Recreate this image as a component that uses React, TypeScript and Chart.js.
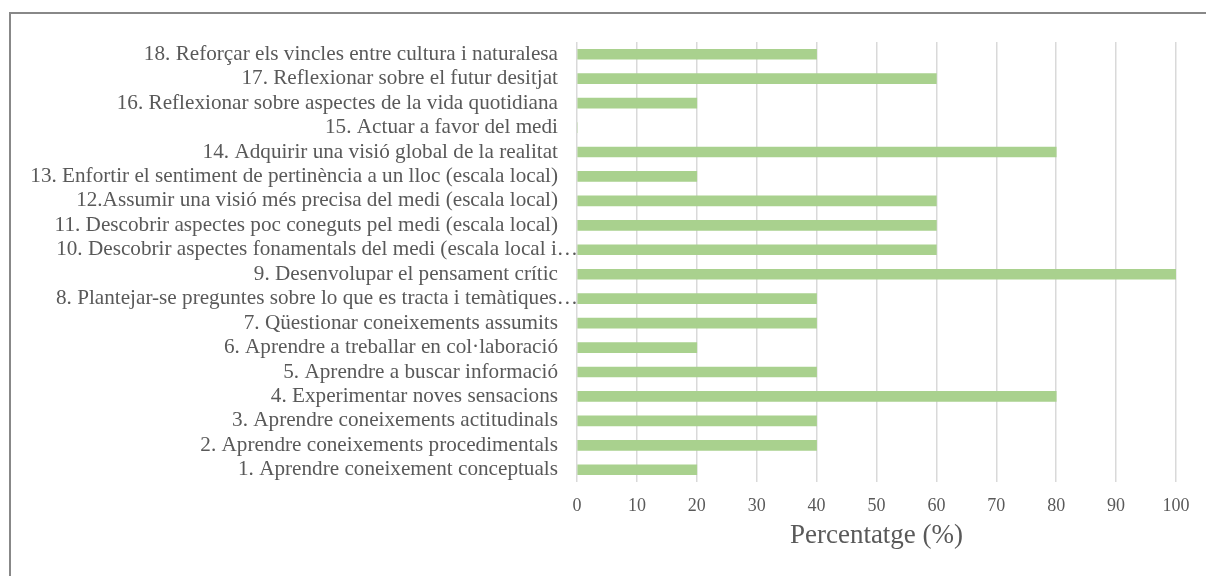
import React, { useEffect, useRef } from "react";
import { Chart, registerables } from "chart.js";

Chart.register(...registerables);

const categories: string[] = [
  "18. Reforçar els vincles entre cultura i naturalesa",
  "17. Reflexionar sobre el futur desitjat",
  "16. Reflexionar sobre aspectes de la vida quotidiana",
  "15. Actuar a favor del medi",
  "14. Adquirir una visió global de la realitat",
  "13. Enfortir el sentiment de pertinència a un lloc (escala local)",
  "12.Assumir una visió més precisa del medi (escala local)",
  "11. Descobrir aspectes poc coneguts pel medi (escala local)",
  "10. Descobrir aspectes fonamentals del medi (escala local i…",
  "9. Desenvolupar el pensament crític",
  "8. Plantejar-se preguntes sobre lo que es tracta i temàtiques…",
  "7. Qüestionar coneixements assumits",
  "6. Aprendre a treballar en col·laboració",
  "5. Aprendre a buscar informació",
  "4. Experimentar noves sensacions",
  "3. Aprendre coneixements actitudinals",
  "2. Aprendre coneixements procedimentals",
  "1. Aprendre coneixement conceptuals",
];

const percentages: number[] = [40, 60, 20, 0, 80, 20, 60, 60, 60, 100, 40, 40, 20, 40, 80, 40, 40, 20];

const xTickMin = 0;
const xTickMax = 100;
const xTickStep = 10;
const xAxisTitle = "Percentatge (%)";

const FONT = '"Liberation Serif", "Times New Roman", serif';
const Y_FONT_SIZE = 21.2;

// Draws the category labels at the y scale's tick positions; labels that
// were truncated (ending in an ellipsis) run up to the plot edge, like Excel.
const categoryLabelPlugin = {
  id: "categoryLabels",
  afterDraw(chart: any) {
    const scale = chart.scales.y;
    const ctx = chart.ctx;
    const left = chart.chartArea.left;
    ctx.save();
    ctx.font = `${Y_FONT_SIZE}px ${FONT}`;
    ctx.fillStyle = "#595959";
    ctx.textAlign = "right";
    ctx.textBaseline = "middle";
    const labels: string[] = chart.data.labels;
    labels.forEach((lab, i) => {
      const y = scale.getPixelForTick(i);
      const x = lab.endsWith("…") ? left + 1 : left - 19;
      ctx.fillText(lab, x, y);
    });
    ctx.restore();
  },
};

export default function App() {
  const ref = useRef<HTMLCanvasElement | null>(null);

  useEffect(() => {
    document.body.style.overflow = "hidden";
    const canvas = ref.current;
    if (!canvas) return;
    const chart = new Chart(canvas, {
      type: "bar",
      data: {
        labels: categories,
        datasets: [
          {
            data: percentages,
            backgroundColor: "#a9d18e",
            borderWidth: 0,
            barThickness: 10,
          },
        ],
      },
      options: {
        indexAxis: "y",
        animation: false,
        responsive: false,
        devicePixelRatio: 1,
        layout: { padding: { left: 0, right: 30, top: 42, bottom: 0 } },
        plugins: {
          legend: { display: false },
          tooltip: { enabled: false },
          title: { display: false },
        },
        scales: {
          x: {
            min: xTickMin,
            max: xTickMax,
            afterFit: (scale: any) => {
              scale.height = 94;
            },
            grid: {
              display: true,
              color: "#d9d9d9",
              lineWidth: 1.5,
              drawTicks: false,
            },
            border: { display: false },
            ticks: {
              stepSize: xTickStep,
              padding: 13,
              color: "#595959",
              font: { family: FONT, size: 18 },
              maxRotation: 0,
            },
            title: {
              display: true,
              text: xAxisTitle,
              color: "#595959",
              font: { family: FONT, size: 27 },
              padding: { top: 0, bottom: 24 },
            },
          },
          y: {
            afterFit: (scale: any) => {
              scale.width = 577;
            },
            grid: { display: false, drawTicks: false },
            border: { display: false },
            ticks: {
              display: false,
              autoSkip: false,
            },
          },
        },
      },
      plugins: [categoryLabelPlugin],
    });
    return () => chart.destroy();
  }, []);

  return (
    <div style={{ position: "fixed", left: 0, top: 0, width: 1206, height: 576, background: "#fff", overflow: "hidden" }}>
      <div
        style={{
          position: "absolute",
          left: 9,
          top: 12,
          width: 1240,
          height: 640,
          border: "2px solid #888888",
          boxSizing: "border-box",
        }}
      />
      <canvas
        ref={ref}
        width={1206}
        height={576}
        style={{ position: "absolute", left: 0, top: 0, width: 1206, height: 576, display: "block" }}
      />
    </div>
  );
}
